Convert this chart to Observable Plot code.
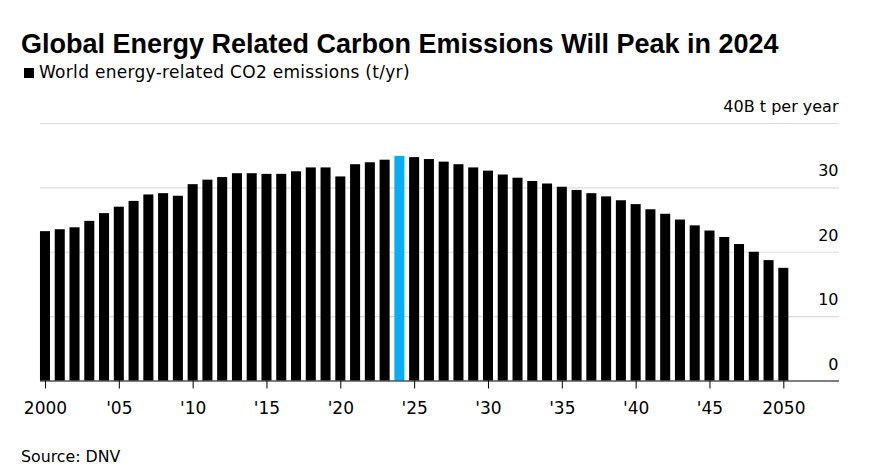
<!DOCTYPE html>
<html>
<head>
<meta charset="utf-8">
<script src="https://cdn.jsdelivr.net/npm/d3@7"></script>
<script src="https://cdn.jsdelivr.net/npm/@observablehq/plot@0.6"></script>
<style>
  html, body { margin: 0; padding: 0; background: #fff; }
  body { width: 869px; height: 476px; position: relative; overflow: hidden;
         font-family: "DejaVu Sans", "Liberation Sans", Arial, sans-serif; color: #000; }
  #title { position: absolute; left: 21px; top: 29.4px; font-family: "Liberation Sans", Arial, Helvetica, sans-serif;
           font-size: 27px; font-weight: bold; line-height: 30px; white-space: nowrap; }
  #legend { position: absolute; left: 24px; top: 62.4px; font-size: 17px; line-height: 20px; white-space: nowrap; letter-spacing: 0.3px; }
  #legend .sw { display: inline-block; width: 10px; height: 10px; background: #000; margin-right: 5px; vertical-align: 0px; }
  #chart { position: absolute; left: 0; top: 95px; }
  #source { position: absolute; left: 21px; top: 447.3px; font-size: 15.8px; line-height: 20px; white-space: nowrap; }
</style>
</head>
<body>
<div id="title">Global Energy Related Carbon Emissions Will Peak in 2024</div>
<div id="legend"><span class="sw"></span>World energy-related CO2 emissions (t/yr)</div>
<div id="chart"></div>
<div id="source">Source: DNV</div>
<script>
const years = [2000,2001,2002,2003,2004,2005,2006,2007,2008,2009,
               2010,2011,2012,2013,2014,2015,2016,2017,2018,2019,
               2020,2021,2022,2023,2024,2025,2026,2027,2028,2029,
               2030,2031,2032,2033,2034,2035,2036,2037,2038,2039,
               2040,2041,2042,2043,2044,2045,2046,2047,2048,2049,2050];
const emissions = [23.2,23.5,23.8,24.8,26.0,27.0,27.9,28.9,29.1,28.7,
                   30.5,31.2,31.6,32.2,32.2,32.1,32.1,32.5,33.1,33.1,
                   31.7,33.6,33.9,34.3,34.9,34.7,34.4,34.0,33.6,33.1,
                   32.6,32.0,31.5,31.0,30.6,30.1,29.6,29.1,28.6,28.0,
                   27.4,26.6,25.9,25.0,24.1,23.3,22.3,21.2,20.0,18.7,17.5];
const peakYear = 2024;
const xTicks = [2000,2005,2010,2015,2020,2025,2030,2035,2040,2045,2050];
const yTicks = [0,10,20,30,40];
const yUnitLabel = "40B t per year";

const data = years.map((y, i) => ({year: y, value: emissions[i], peak: y === peakYear}));

const W = 869, H = 340;
const chart = Plot.plot({
  width: W,
  height: H,
  marginLeft: 40,
  marginRight: 30,
  marginTop: 28,
  marginBottom: 54.5,
  style: {fontFamily: '"DejaVu Sans", "Liberation Sans", Arial, sans-serif', fontSize: "17px", color: "#000", background: "transparent"},
  x: {type: "band", domain: years, range: [37.6, 790.7], paddingInner: 0.32, paddingOuter: 0.16, align: 0.5},
  y: {domain: [0, 40]},
  marks: [
    Plot.ruleY([10, 20, 30, 40], {stroke: "#dcdcdc", strokeWidth: 1.2}),
    Plot.barY(data, {x: "year", y: "value", fill: d => d.peak ? "#08adf2" : "#000"}),
    Plot.ruleY([0], {stroke: "#000", strokeWidth: 1.2}),
    Plot.axisX({ticks: xTicks, tickSize: 8, tickPadding: 12.5, fontSize: 17, stroke: "#000",
      tickFormat: d => (d === 2000 || d === 2050) ? String(d) : "'" + String(d).slice(2), label: null}),
    Plot.axisY({anchor: "right", ticks: yTicks, tickSize: 0, tickPadding: 0, textAnchor: "end",
      dx: -1, dy: -16.6, fontSize: 16,
      tickFormat: d => d === 40 ? yUnitLabel : String(d), label: null})
  ]
});
document.getElementById("chart").appendChild(chart);
</script>
</body>
</html>
